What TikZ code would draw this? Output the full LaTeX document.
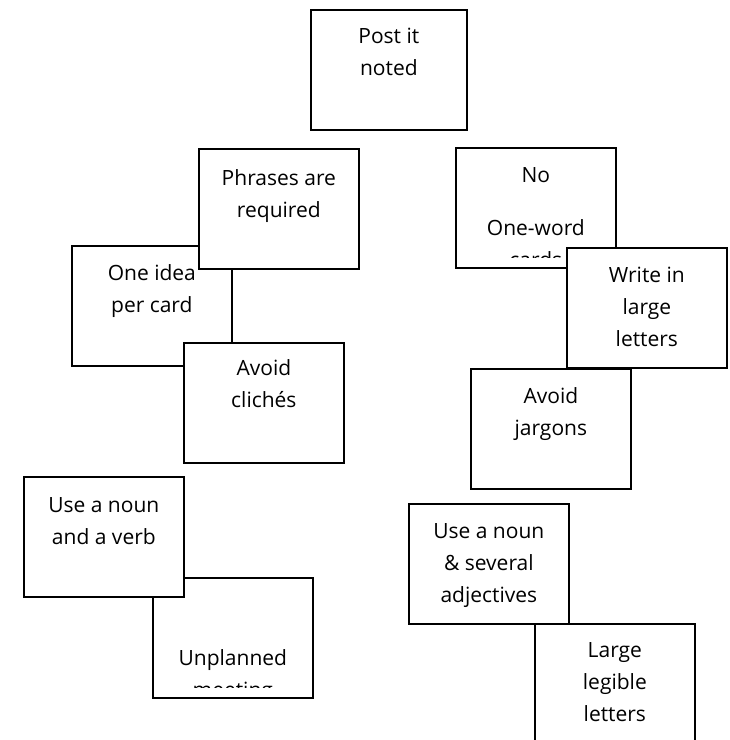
\documentclass[tikz,border=0pt]{standalone}
\usepackage{fontspec}
\setmainfont{Open Sans}
\usepackage{tikz}

\newcommand{\card}[2][35pt]{\parbox[c][120pt][t]{150pt}{\centering\rule{0pt}{#1}#2}}

\begin{document}
\begin{tikzpicture}[x=1pt,y=-1pt,line width=1.7pt,
      note/.style={draw,fill=white,anchor=north west,inner sep=0pt,
        minimum width=160pt,minimum height=120pt,
        font=\fontsize{21}{32}\selectfont},
      bare/.style={note,draw=none,fill=none}]
      \useasboundingbox (0,0) rectangle (730,740);

      \node[note,minimum width=156pt,minimum height=118pt] (post) at (310,9) {\card[34pt]{Post it\\noted}};

      \node[note] (idea) at (71,245) {\card{One idea\\per card}};
      \node[note] (phrases) at (198,148) {\card[37pt]{Phrases are\\required}};
      \node[note] (cliches) at (183,342) {\card[33pt]{Avoid\\clichés}};

      \node[note] (noword) at (455,147) {};
      \begin{scope}
        \clip (noword.north west) rectangle ([yshift=11pt]noword.south east);
        \node[bare] at (noword.north west) {\card{No\\[21pt]One-word\\cards}};
      \end{scope}
      \node[note] (write) at (566,247) {\card{Write in\\large\\letters}};
      \node[note] (jargons) at (470,368) {\card{Avoid\\jargons}};

      \node[note] (adjectives) at (408,503) {\card{Use a noun\\\& several\\adjectives}};
      \node[note] (legible) at (534,623) {\card[34pt]{Large\\legible\\letters}};

      \node[note] (unplanned) at (152,577) {};
      \begin{scope}
        \clip (unplanned.north west) rectangle ([yshift=11pt]unplanned.south east);
        \node[bare] at (unplanned.north west) {\card[88pt]{Unplanned\\meeting}};
      \end{scope}
      \node[note] (nounverb) at (23,476) {\card[36pt]{Use a noun\\and a verb}};
\end{tikzpicture}
\end{document}
